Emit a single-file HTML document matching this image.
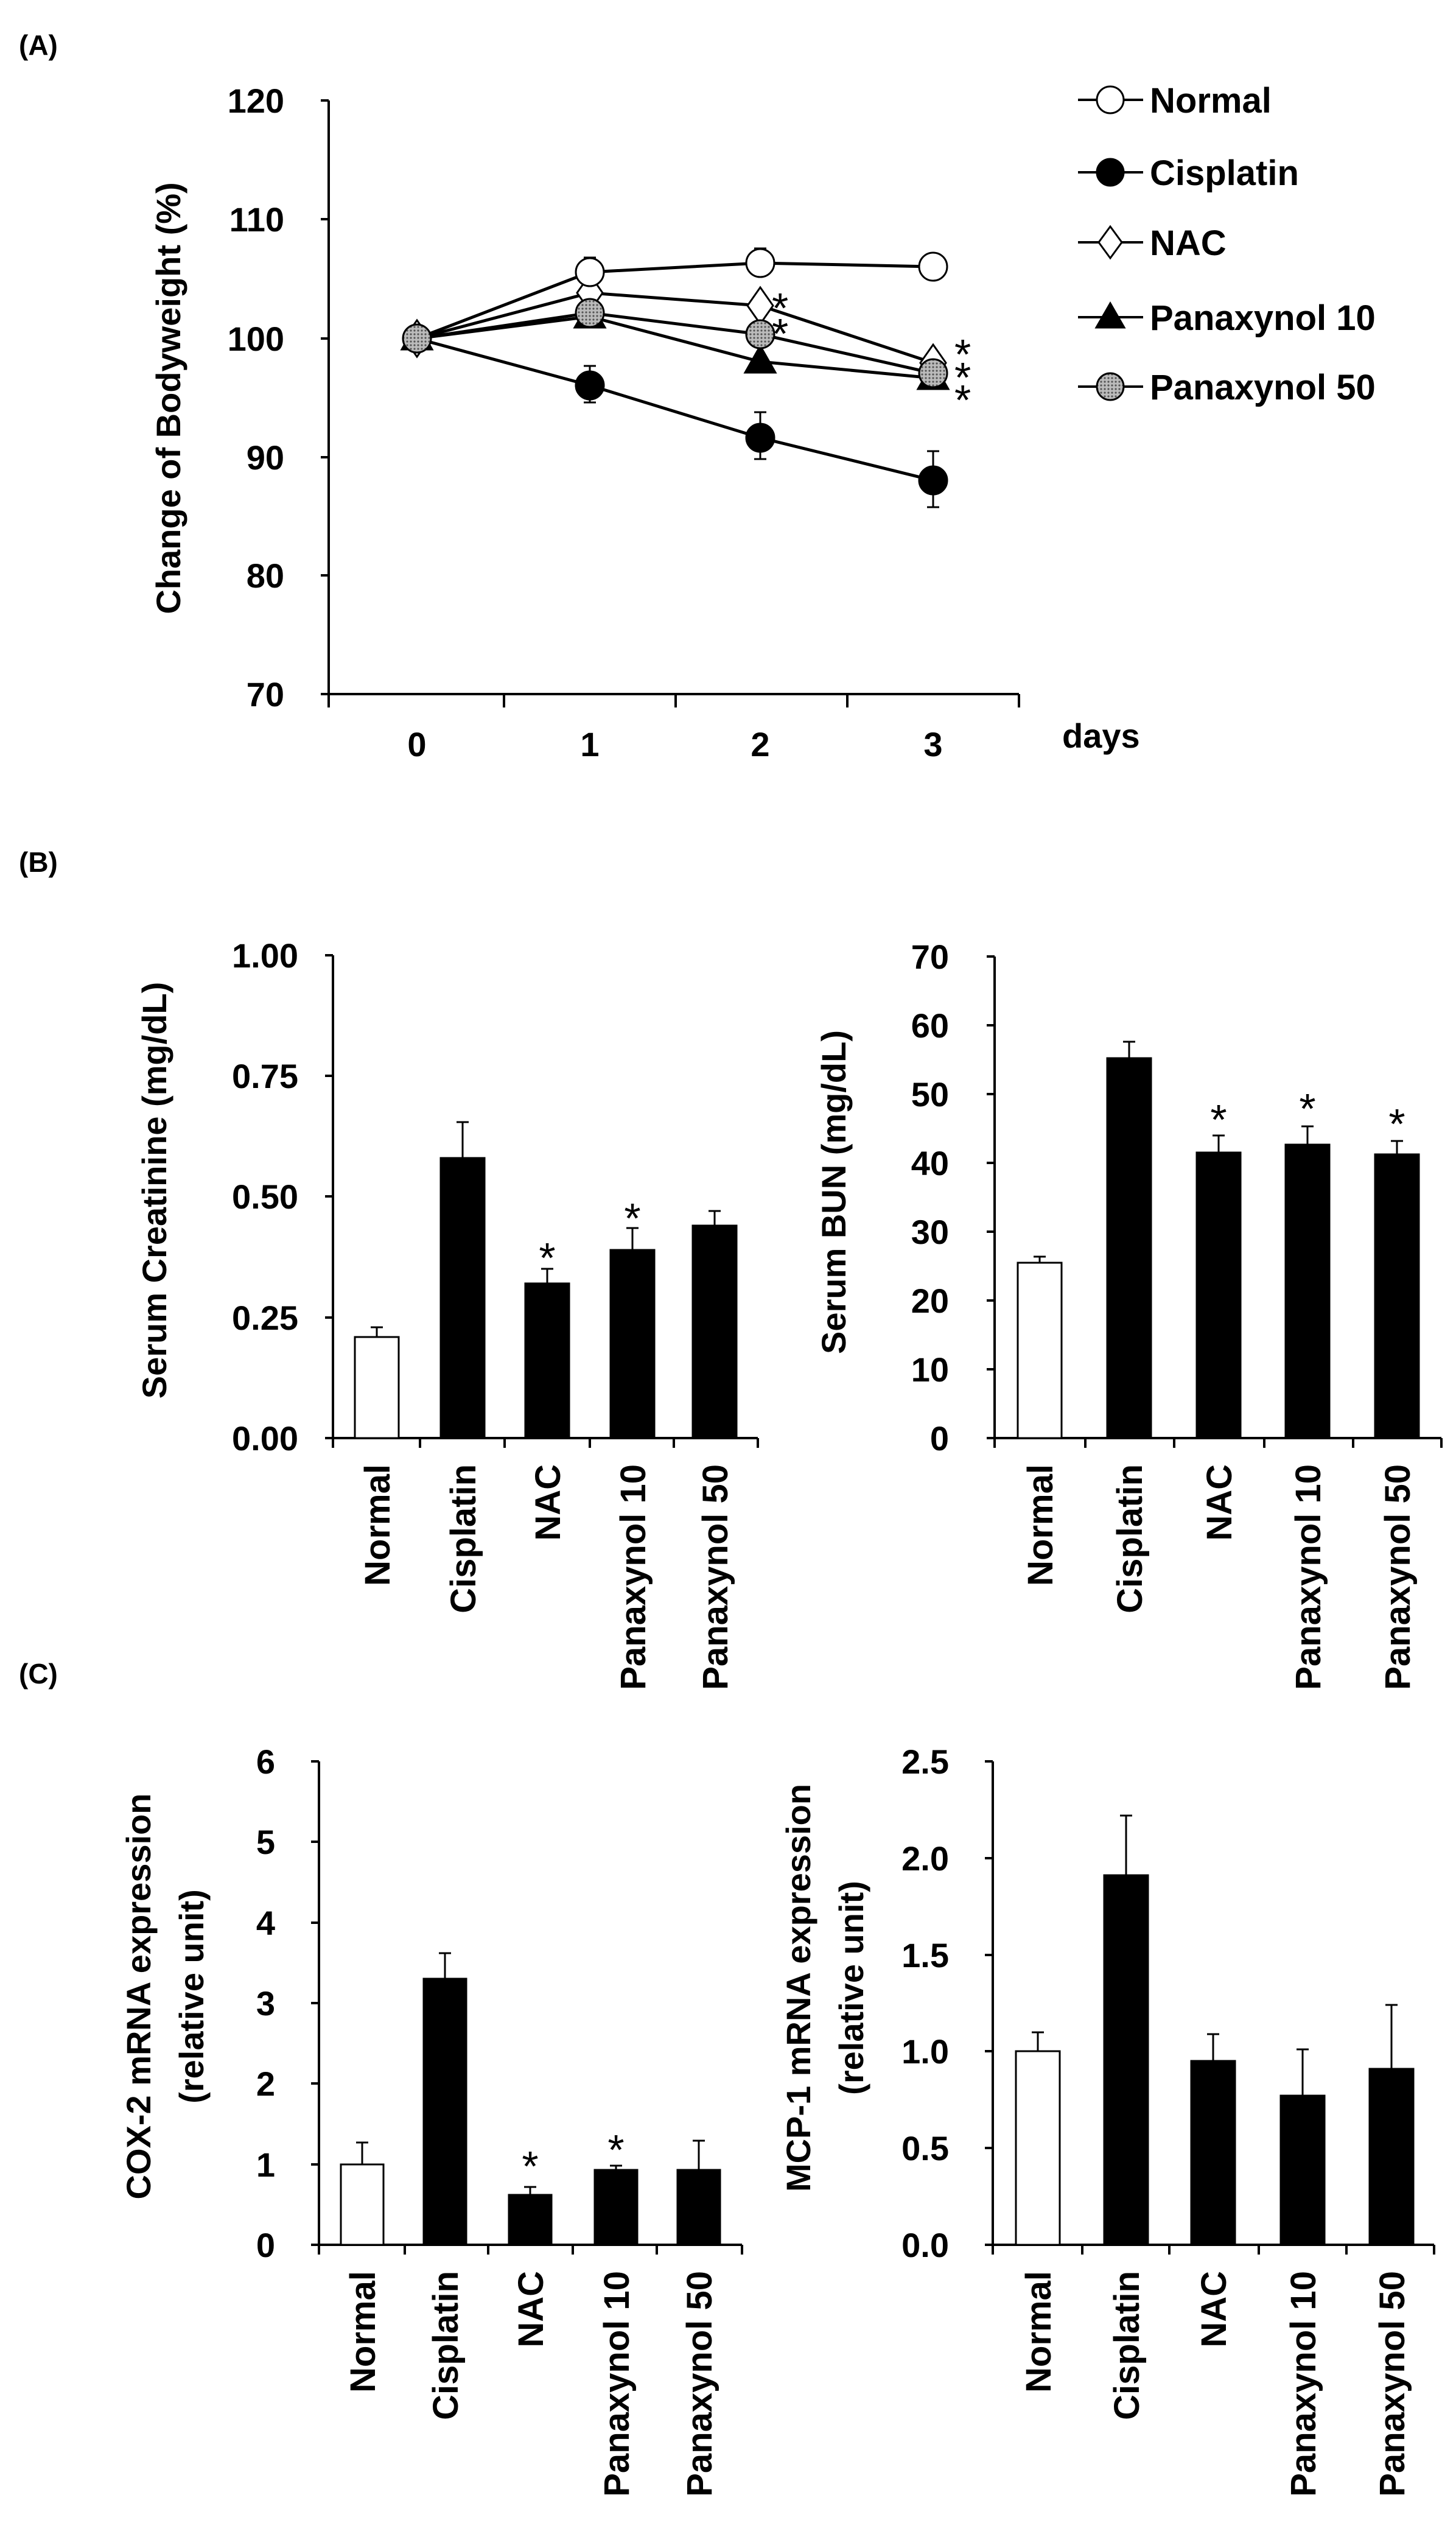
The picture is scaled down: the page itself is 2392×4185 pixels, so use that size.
<!DOCTYPE html>
<html><head><meta charset="utf-8"><style>
html,body{margin:0;padding:0;background:#fff}
svg{display:block}
text{font-family:"Liberation Sans",Arial,sans-serif;font-weight:bold;fill:#000}
.ast{font-weight:normal}
</style></head><body>
<svg width="2392" height="4185" viewBox="0 0 2392 4185" xmlns="http://www.w3.org/2000/svg">
<defs>
<pattern id="dots" width="6" height="6" patternUnits="userSpaceOnUse">
<rect width="6" height="6" fill="#bbb"/><circle cx="3" cy="3" r="1.6" fill="#555"/>
</pattern>
</defs>
<g stroke="#000" stroke-width="4" fill="none">
<line x1="540" y1="165" x2="540" y2="1142"/>
<line x1="538" y1="1140" x2="1674" y2="1140"/>
<line x1="527" y1="165" x2="540" y2="165"/>
<line x1="527" y1="360" x2="540" y2="360"/>
<line x1="527" y1="556" x2="540" y2="556"/>
<line x1="527" y1="751" x2="540" y2="751"/>
<line x1="527" y1="945" x2="540" y2="945"/>
<line x1="527" y1="1140" x2="540" y2="1140"/>
<line x1="540" y1="1140" x2="540" y2="1162"/>
<line x1="828" y1="1140" x2="828" y2="1162"/>
<line x1="1110" y1="1140" x2="1110" y2="1162"/>
<line x1="1392" y1="1140" x2="1392" y2="1162"/>
<line x1="1674" y1="1140" x2="1674" y2="1162"/>
</g>
<g stroke="#000" stroke-width="3" fill="none">
<path d="M969 601V661M959 601H979M959 661H979"/>
<path d="M1249 677V754M1239 677H1259M1239 754H1259"/>
<path d="M1533 741V833M1523 741H1543M1523 833H1543"/>
<path d="M969 423V447M959 423H979"/>
<path d="M1249 408V432M1239 408H1259"/>
</g>
<g stroke="#000" stroke-width="5" fill="none">
<polyline points="685,556 969,447 1249,432 1533,438"/>
<polyline points="685,556 969,633 1249,719 1533,789"/>
<polyline points="685,556 969,481 1249,502 1533,596"/>
<polyline points="685,556 969,520 1249,594 1533,621"/>
<polyline points="685,556 969,514 1249,549 1533,613"/>
</g>
<g stroke="#000" stroke-width="3">
<polygon points="685,530 710,574 660,574" fill="#000"/>
<polygon points="969,494 994,538 944,538" fill="#000"/>
<polygon points="1249,568 1274,612 1224,612" fill="#000"/>
<polygon points="1533,595 1558,639 1508,639" fill="#000"/>
<polygon points="685,526 706,556 685,586 664,556" fill="#fff"/>
<polygon points="969,451 990,481 969,511 948,481" fill="#fff"/>
<polygon points="1249,472 1270,502 1249,532 1228,502" fill="#fff"/>
<polygon points="1533,566 1554,596 1533,626 1512,596" fill="#fff"/>
<circle cx="685" cy="556" r="23" fill="url(#dots)"/>
<circle cx="969" cy="514" r="23" fill="url(#dots)"/>
<circle cx="1249" cy="549" r="23" fill="url(#dots)"/>
<circle cx="1533" cy="613" r="23" fill="url(#dots)"/>
<circle cx="969" cy="633" r="23" fill="#000"/>
<circle cx="1249" cy="719" r="23" fill="#000"/>
<circle cx="1533" cy="789" r="23" fill="#000"/>
<circle cx="969" cy="447" r="23" fill="#fff"/>
<circle cx="1249" cy="432" r="23" fill="#fff"/>
<circle cx="1533" cy="438" r="23" fill="#fff"/>
<path d="M1771 164H1878M1771 283H1878M1771 398H1878M1771 521H1878M1771 635H1878" fill="none" stroke-width="4"/>
<circle cx="1824" cy="164" r="22" fill="#fff"/>
<circle cx="1824" cy="283" r="22" fill="#000"/>
<polygon points="1824,372 1843,398 1824,424 1805,398" fill="#fff"/>
<polygon points="1824,498 1847,538 1801,538" fill="#000"/>
<circle cx="1824" cy="635" r="22" fill="url(#dots)"/>
</g>
<g font-size="46"><text x="31" y="90">(A)</text><text x="31" y="1432">(B)</text><text x="31" y="2765">(C)</text></g>
<g font-size="56" text-anchor="end">
<text x="467" y="185">120</text><text x="467" y="380">110</text><text x="467" y="576">100</text>
<text x="467" y="771">90</text><text x="467" y="965">80</text><text x="467" y="1160">70</text>
</g>
<g font-size="56" text-anchor="middle">
<text x="685" y="1242">0</text><text x="969" y="1242">1</text><text x="1249" y="1242">2</text><text x="1533" y="1242">3</text>
</g>
<text x="1745" y="1228" font-size="56">days</text>
<text transform="translate(296,654) rotate(-90)" text-anchor="middle" font-size="56">Change of Bodyweight (%)</text>
<g font-size="58">
<text x="1889" y="185">Normal</text><text x="1889" y="304">Cisplatin</text><text x="1889" y="419">NAC</text>
<text x="1889" y="542">Panaxynol 10</text><text x="1889" y="656">Panaxynol 50</text>
</g>
<g font-size="70">
<text class="ast" x="1268" y="530">*</text><text class="ast" x="1268" y="572">*</text>
<text class="ast" x="1568" y="606">*</text><text class="ast" x="1568" y="644">*</text><text class="ast" x="1568" y="681">*</text>
</g>

<g stroke="#000" stroke-width="4" fill="none">
<line x1="547" y1="1569" x2="547" y2="2378"/>
<line x1="545" y1="2362" x2="1245" y2="2362"/>
<path d="M534 1569H547M534 1767H547M534 1965H547M534 2164H547M534 2362H547"/>
<path d="M690 2362V2378M829 2362V2378M969 2362V2378M1107 2362V2378M1245 2362V2378"/>
<line x1="1634" y1="1571" x2="1634" y2="2378"/>
<line x1="1632" y1="2362" x2="2368" y2="2362"/>
<path d="M1621 1571H1634M1621 1684H1634M1621 1797H1634M1621 1910H1634M1621 2023H1634M1621 2136H1634M1621 2249H1634M1621 2362H1634"/>
<path d="M1783 2362V2378M1929 2362V2378M2077 2362V2378M2223 2362V2378M2368 2362V2378"/>
<line x1="524" y1="2893" x2="524" y2="3703"/>
<line x1="522" y1="3687" x2="1219" y2="3687"/>
<path d="M511 2893H524M511 3025H524M511 3158H524M511 3290H524M511 3422H524M511 3555H524M511 3687H524"/>
<path d="M665 3687V3703M802 3687V3703M941 3687V3703M1079 3687V3703M1219 3687V3703"/>
<line x1="1631" y1="2893" x2="1631" y2="3703"/>
<line x1="1629" y1="3687" x2="2356" y2="3687"/>
<path d="M1618 2893H1631M1618 3052H1631M1618 3211H1631M1618 3369H1631M1618 3528H1631M1618 3687H1631"/>
<path d="M1778 3687V3703M1921 3687V3703M2068 3687V3703M2212 3687V3703M2356 3687V3703"/>
</g>
<g stroke="#000" stroke-width="3">
<path d="M619 2180V2196M609 2180H629M760 1843V1902M750 1843H770M899 2084V2108M889 2084H909M1039 2017V2053M1029 2017H1049M1174 1989V2013M1164 1989H1184" fill="none"/>
<rect x="583" y="2196" width="72" height="166" fill="#fff"/>
<rect x="724" y="1902" width="72" height="460" fill="#000"/>
<rect x="863" y="2108" width="72" height="254" fill="#000"/>
<rect x="1003" y="2053" width="72" height="309" fill="#000"/>
<rect x="1138" y="2013" width="72" height="349" fill="#000"/>
<path d="M1708 2064V2074M1698 2064H1718M1855 1711V1738M1845 1711H1865M2002 1865V1893M1992 1865H2012M2148 1850V1880M2138 1850H2158M2295 1874V1896M2285 1874H2305" fill="none"/>
<rect x="1672" y="2074" width="72" height="288" fill="#fff"/>
<rect x="1819" y="1738" width="72" height="624" fill="#000"/>
<rect x="1966" y="1893" width="72" height="469" fill="#000"/>
<rect x="2112" y="1880" width="72" height="482" fill="#000"/>
<rect x="2259" y="1896" width="72" height="466" fill="#000"/>
<path d="M595 3519V3555M585 3519H605M731 3208V3250M721 3208H741M871 3592V3605M861 3592H881M1012 3557V3564M1002 3557H1022M1148 3516V3564M1138 3516H1158" fill="none"/>
<rect x="560" y="3555" width="70" height="132" fill="#fff"/>
<rect x="696" y="3250" width="70" height="437" fill="#000"/>
<rect x="836" y="3605" width="70" height="82" fill="#000"/>
<rect x="977" y="3564" width="70" height="123" fill="#000"/>
<rect x="1113" y="3564" width="70" height="123" fill="#000"/>
<path d="M1705 3338V3369M1695 3338H1715M1850 2982V3080M1840 2982H1860M1993 3341V3385M1983 3341H2003M2140 3366V3442M2130 3366H2150M2286 3293V3398M2276 3293H2296" fill="none"/>
<rect x="1669" y="3369" width="72" height="318" fill="#fff"/>
<rect x="1814" y="3080" width="72" height="607" fill="#000"/>
<rect x="1957" y="3385" width="72" height="302" fill="#000"/>
<rect x="2104" y="3442" width="72" height="245" fill="#000"/>
<rect x="2250" y="3398" width="72" height="289" fill="#000"/>
</g>
<g font-size="56" text-anchor="end">
<text x="490" y="1589">1.00</text><text x="490" y="1787">0.75</text><text x="490" y="1985">0.50</text><text x="490" y="2184">0.25</text><text x="490" y="2382">0.00</text>
<text x="1559" y="1591">70</text><text x="1559" y="1704">60</text><text x="1559" y="1817">50</text><text x="1559" y="1930">40</text><text x="1559" y="2043">30</text><text x="1559" y="2156">20</text><text x="1559" y="2269">10</text><text x="1559" y="2382">0</text>
<text x="452" y="2913">6</text><text x="452" y="3045">5</text><text x="452" y="3178">4</text><text x="452" y="3310">3</text><text x="452" y="3442">2</text><text x="452" y="3575">1</text><text x="452" y="3707">0</text>
<text x="1559" y="2913">2.5</text><text x="1559" y="3072">2.0</text><text x="1559" y="3231">1.5</text><text x="1559" y="3389">1.0</text><text x="1559" y="3548">0.5</text><text x="1559" y="3707">0.0</text>
</g>
<g font-size="56" text-anchor="middle">
<text transform="translate(273,1955) rotate(-90)">Serum Creatinine (mg/dL)</text>
<text transform="translate(1389,1958) rotate(-90)">Serum BUN (mg/dL)</text>
<text transform="translate(247,3279) rotate(-90)">COX-2 mRNA expression</text>
<text transform="translate(334,3279) rotate(-90)">(relative unit)</text>
<text transform="translate(1331,3265) rotate(-90)">MCP-1 mRNA expression</text>
<text transform="translate(1418,3265) rotate(-90)">(relative unit)</text>
</g>
<g font-size="58" text-anchor="end">
<text transform="translate(640,2405) rotate(-90)">Normal</text>
<text transform="translate(781,2405) rotate(-90)">Cisplatin</text>
<text transform="translate(920,2405) rotate(-90)">NAC</text>
<text transform="translate(1060,2405) rotate(-90)">Panaxynol 10</text>
<text transform="translate(1195,2405) rotate(-90)">Panaxynol 50</text>
<text transform="translate(1729,2405) rotate(-90)">Normal</text>
<text transform="translate(1876,2405) rotate(-90)">Cisplatin</text>
<text transform="translate(2023,2405) rotate(-90)">NAC</text>
<text transform="translate(2169,2405) rotate(-90)">Panaxynol 10</text>
<text transform="translate(2316,2405) rotate(-90)">Panaxynol 50</text>
<text transform="translate(616,3730) rotate(-90)">Normal</text>
<text transform="translate(752,3730) rotate(-90)">Cisplatin</text>
<text transform="translate(892,3730) rotate(-90)">NAC</text>
<text transform="translate(1033,3730) rotate(-90)">Panaxynol 10</text>
<text transform="translate(1169,3730) rotate(-90)">Panaxynol 50</text>
<text transform="translate(1726,3730) rotate(-90)">Normal</text>
<text transform="translate(1871,3730) rotate(-90)">Cisplatin</text>
<text transform="translate(2014,3730) rotate(-90)">NAC</text>
<text transform="translate(2161,3730) rotate(-90)">Panaxynol 10</text>
<text transform="translate(2307,3730) rotate(-90)">Panaxynol 50</text>
</g>
<g font-size="70" text-anchor="middle">
<text class="ast" x="899" y="2090">*</text>
<text class="ast" x="1039" y="2025">*</text>
<text class="ast" x="2002" y="1863">*</text>
<text class="ast" x="2148" y="1845">*</text>
<text class="ast" x="2295" y="1870">*</text>
<text class="ast" x="871" y="3582">*</text>
<text class="ast" x="1012" y="3555">*</text>
</g>
</svg>
</body></html>
